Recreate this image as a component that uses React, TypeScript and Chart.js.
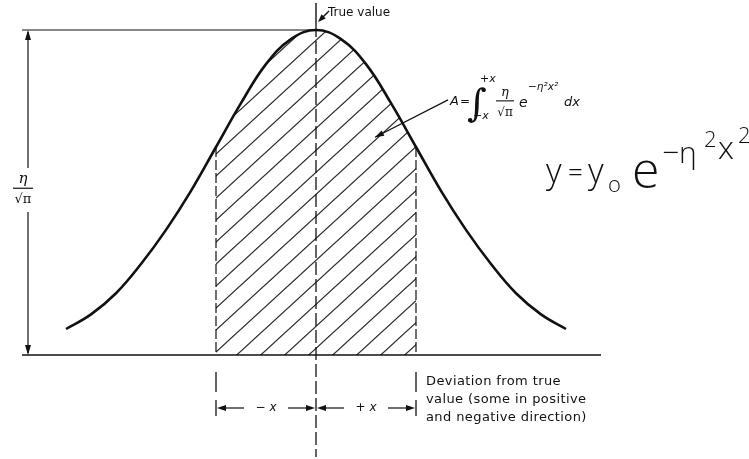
import { useEffect, useRef } from "react";
import { Chart, registerables } from "chart.js";

Chart.register(...registerables);

// Deviation from the true value (in units of x) and the relative frequency (peak η/√π = 1)
const deviation = [-5, -4.5, -4, -3.5, -3, -2.5, -2, -1.5, -1, -0.5, 0, 0.5, 1, 1.5, 2, 2.5, 3, 3.5, 4, 4.5, 5];
const frequency = [0.08, 0.125, 0.19, 0.28, 0.385, 0.505, 0.64, 0.775, 0.895, 0.972, 1, 0.972, 0.895, 0.775, 0.64, 0.505, 0.385, 0.28, 0.19, 0.125, 0.08];
// integration limits −x … +x of the shaded area A
const limits = [-2, 2];

const trueValueLabel = "True value";
const deviationNote = ["Deviation from true", "value (some in positive", "and negative direction)"];

const INK = "#111";
const SANS = '"DejaVu Sans", sans-serif';

function hatchPattern(): CanvasPattern | string {
  const w = 24;
  const h = 22;
  const c = document.createElement("canvas");
  c.width = w;
  c.height = h;
  const g = c.getContext("2d");
  if (!g) return "rgba(0,0,0,0.2)";
  g.strokeStyle = "#2a2a2a";
  g.lineWidth = 1.25;
  g.beginPath();
  g.moveTo(-w * 0.1, h * 1.1);
  g.lineTo(w * 1.1, -h * 0.1);
  g.moveTo(-w * 0.1, h * 0.1);
  g.lineTo(w * 0.1, -h * 0.1);
  g.moveTo(w * 0.9, h * 1.1);
  g.lineTo(w * 1.1, h * 0.9);
  g.stroke();
  return g.createPattern(c, "repeat") ?? "rgba(0,0,0,0.2)";
}

function seg(ctx: CanvasRenderingContext2D, x1: number, y1: number, x2: number, y2: number, width = 1.3, dash: number[] = []) {
  ctx.save();
  ctx.lineWidth = width;
  ctx.setLineDash(dash);
  ctx.beginPath();
  ctx.moveTo(x1, y1);
  ctx.lineTo(x2, y2);
  ctx.stroke();
  ctx.restore();
}

function head(ctx: CanvasRenderingContext2D, x: number, y: number, angle: number, len = 9, half = 3.2) {
  const bx = x - len * Math.cos(angle);
  const by = y - len * Math.sin(angle);
  ctx.beginPath();
  ctx.moveTo(x, y);
  ctx.lineTo(bx + half * Math.sin(angle), by - half * Math.cos(angle));
  ctx.lineTo(bx - half * Math.sin(angle), by + half * Math.cos(angle));
  ctx.closePath();
  ctx.fill();
}

function text(ctx: CanvasRenderingContext2D, s: string, x: number, y: number, font: string, align: CanvasTextAlign = "left") {
  ctx.font = font;
  ctx.textAlign = align;
  ctx.fillText(s, x, y);
}

const annotations = {
  id: "annotations",
  afterDraw(chart: Chart) {
    const ctx = chart.ctx;
    const xs = chart.scales.x;
    const ys = chart.scales.y;
    const X = (v: number) => xs.getPixelForValue(v);
    const Y = (v: number) => ys.getPixelForValue(v);
    const cx = X(0);
    const base = Y(0);
    const peak = Y(Math.max(...frequency));
    const xl = X(limits[0]);
    const xr = X(limits[1]);
    const edgeTop = Y(frequency[deviation.indexOf(limits[1])]);
    const dimX = X(deviation[0]) - 38;

    ctx.save();
    ctx.strokeStyle = INK;
    ctx.fillStyle = INK;
    ctx.textBaseline = "alphabetic";

    // peak level and base line
    seg(ctx, dimX - 6, peak, cx, peak, 1.1);
    seg(ctx, dimX - 6, base, X(5.7), base, 1.7);

    // edges of the shaded area
    seg(ctx, xl, edgeTop, xl, base, 1.2, [10, 3]);
    seg(ctx, xr, edgeTop, xr, base, 1.2, [10, 3]);

    // height dimension η/√π
    seg(ctx, dimX, peak + 2, dimX, Y(0.575), 1.2);
    seg(ctx, dimX, Y(0.44), dimX, base - 2, 1.2);
    head(ctx, dimX, peak, -Math.PI / 2, 10, 3);
    head(ctx, dimX, base, Math.PI / 2, 10, 3);
    const ly = Y(0.51);
    text(ctx, "η", dimX - 5, ly - 6, 'italic 15px "DejaVu Serif", serif', "center");
    seg(ctx, dimX - 15, ly - 1, dimX + 5, ly - 1, 1.2);
    text(ctx, "√π", dimX - 5, ly + 14, '13px "DejaVu Serif", serif', "center");

    // true value marker
    seg(ctx, cx, 3, cx, 24, 1.4);
    seg(ctx, cx, 24, cx, 457, 1.3, [13, 4]);
    seg(ctx, cx + 13, 11, cx + 4, 20, 1.4);
    head(ctx, cx + 2, 22, (3 * Math.PI) / 4, 8, 3);
    text(ctx, trueValueLabel, cx + 12, 16, `12px ${SANS}`);

    // area formula with pointer into the shaded region
    const ax0 = X(2.64);
    const ay0 = Y(0.785);
    const ax1 = X(1.18);
    const ay1 = Y(0.67);
    seg(ctx, ax0, ay0, ax1, ay1, 1.2);
    head(ctx, ax1, ay1, Math.atan2(ay1 - ay0, ax1 - ax0), 9, 3);

    const fx = ax0 + 2;
    const fy = ay0 + 5;
    text(ctx, "A", fx, fy, `italic 13px ${SANS}`);
    text(ctx, "=", fx + 10, fy, `12px ${SANS}`);
    text(ctx, "∫", fx + 17, fy + 11, `italic 38px "DejaVu Serif", serif`);
    text(ctx, "+x", fx + 30, fy - 23, `italic 11px ${SANS}`);
    text(ctx, "−x", fx + 23, fy + 14, `italic 11px ${SANS}`);
    text(ctx, "η", fx + 55, fy - 9, `italic 13px "DejaVu Serif", serif`, "center");
    seg(ctx, fx + 46, fy - 4, fx + 64, fy - 4, 1.1);
    text(ctx, "√π", fx + 55, fy + 11, `12px "DejaVu Serif", serif`, "center");
    text(ctx, "e", fx + 69, fy + 2, `italic 14px ${SANS}`);
    text(ctx, "−η²x²", fx + 78, fy - 15, `italic 10.5px ${SANS}`);
    text(ctx, "dx", fx + 114, fy + 1, `italic 13px ${SANS}`);

    // hand-written density function
    const hx = 546;
    const hy = 183;
    const hand = '300 34px "Open Sans", "DejaVu Sans", sans-serif';
    text(ctx, "y", hx, hy, hand);
    text(ctx, "=", hx + 22, hy - 2, '300 26px "Open Sans", sans-serif');
    text(ctx, "y", hx + 42, hy, hand);
    text(ctx, "o", hx + 62, hy + 9, '300 22px "Open Sans", sans-serif');
    text(ctx, "e", hx + 86, hy + 5, '300 50px "Open Sans", sans-serif');
    text(ctx, "−η", hx + 116, hy - 20, '300 30px "Open Sans", sans-serif');
    text(ctx, "2", hx + 158, hy - 36, '300 22px "Open Sans", sans-serif');
    text(ctx, "x", hx + 172, hy - 24, '300 32px "Open Sans", sans-serif');
    text(ctx, "2", hx + 192, hy - 40, '300 22px "Open Sans", sans-serif');

    // deviation limits and ±x dimension below the base line
    seg(ctx, xl, base + 17, xl, base + 37, 1.3);
    seg(ctx, xr, base + 17, xr, base + 37, 1.3);
    const dy = base + 53;
    seg(ctx, xl, dy - 8, xl, dy + 8, 1.3);
    seg(ctx, xr, dy - 8, xr, dy + 8, 1.3);
    seg(ctx, xl + 6, dy, xl + 28, dy, 1.2);
    head(ctx, xl + 1, dy, Math.PI, 9, 3);
    seg(ctx, cx - 28, dy, cx - 6, dy, 1.2);
    head(ctx, cx - 1, dy, 0, 9, 3);
    seg(ctx, cx + 6, dy, cx + 28, dy, 1.2);
    head(ctx, cx + 1, dy, Math.PI, 9, 3);
    seg(ctx, xr - 28, dy, xr - 6, dy, 1.2);
    head(ctx, xr - 1, dy, 0, 9, 3);
    ctx.textBaseline = "middle";
    text(ctx, "− x", (xl + cx) / 2, dy, `italic 12px ${SANS}`, "center");
    text(ctx, "+ x", (cx + xr) / 2, dy, `italic 12px ${SANS}`, "center");

    // axis note
    ctx.textBaseline = "middle";
    (ctx as any).letterSpacing = "0.4px";
    deviationNote.forEach((line, i) => {
      text(ctx, line, xr + 10, base + 27 + i * 18, `13px ${SANS}`);
    });
    (ctx as any).letterSpacing = "0px";

    ctx.restore();
  },
};

export default function App() {
  const ref = useRef<HTMLCanvasElement>(null);

  useEffect(() => {
    const canvas = ref.current;
    if (!canvas) return;
    const curve = deviation.map((x, i) => ({ x, y: frequency[i] }));
    const area = curve.filter((p) => p.x >= limits[0] && p.x <= limits[1]);

    const chart = new Chart(canvas, {
      type: "line",
      data: {
        datasets: [
          {
            label: "y = y₀ e^(−η²x²)",
            data: curve,
            borderColor: INK,
            borderWidth: 2.6,
            pointRadius: 0,
            fill: false,
            tension: 0.4,
            order: 0,
          },
          {
            label: "A",
            data: area,
            borderColor: "rgba(0,0,0,0)",
            borderWidth: 0,
            pointRadius: 0,
            fill: "origin",
            backgroundColor: hatchPattern() as any,
            tension: 0.4,
            order: 1,
          },
        ],
      },
      options: {
        animation: false,
        responsive: false,
        events: [],
        layout: { padding: 0 },
        plugins: { legend: { display: false }, tooltip: { enabled: false } },
        scales: {
          x: { type: "linear", min: -6.32, max: 8.66, display: false },
          y: { type: "linear", min: -0.32, max: 1.0923, display: false },
        },
      },
      plugins: [annotations],
    });
    return () => chart.destroy();
  }, []);

  return (
    <div style={{ position: "fixed", left: 0, top: 0, width: 749, height: 459, background: "#fff" }}>
      <canvas ref={ref} width={749} height={459} style={{ display: "block" }} />
    </div>
  );
}
